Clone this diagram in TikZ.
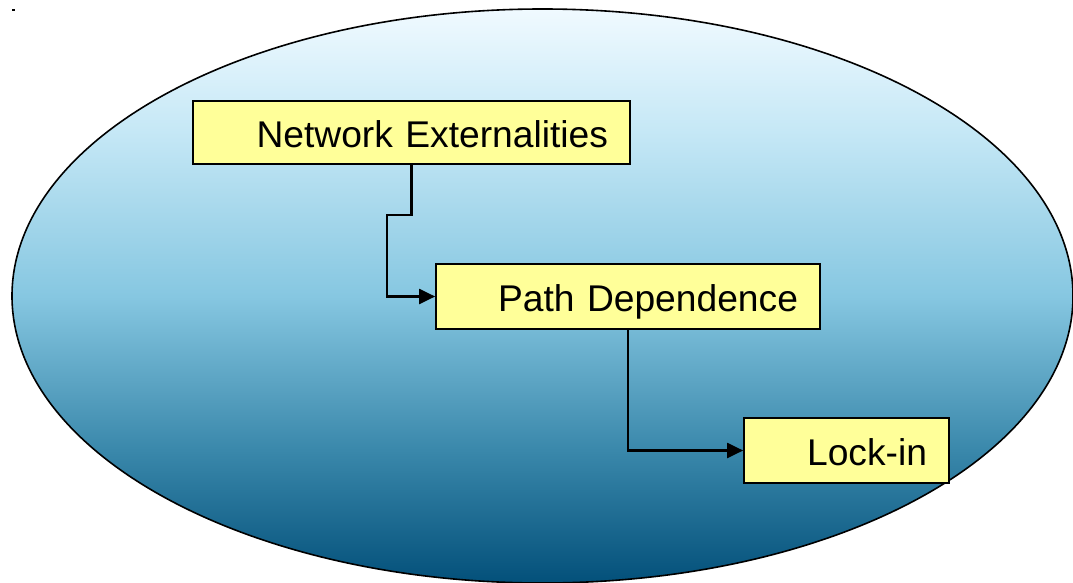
\documentclass[tikz,border=0pt]{standalone}
\usepackage{fontspec}
\setmainfont{Liberation Sans}
\usetikzlibrary{arrows.meta,shadows}

\definecolor{foam}{HTML}{F0FAFF}
\definecolor{lightsea}{HTML}{C6E8F6}
\definecolor{shallow}{HTML}{86C7E1}
\definecolor{midsea}{HTML}{3A88AB}
\definecolor{deepsea}{HTML}{03507A}
\definecolor{boxyellow}{HTML}{FFFF99}

% vertical fade used for the large ellipse (25bp = bottom, 75bp = top)
\pgfdeclareverticalshading{oceanfade}{100bp}{
  color(0bp)=(deepsea); color(25bp)=(deepsea); color(36.6bp)=(midsea);
  color(50bp)=(shallow); color(64.5bp)=(lightsea); color(75bp)=(foam);
  color(100bp)=(foam)}

\tikzset{
  block/.style={draw, line width=1.7pt, fill=boxyellow,
    inner xsep=22pt, inner ysep=0pt, align=right,
    font=\fontsize{37.2}{40}\selectfont,
    text height=30pt, text depth=0pt,
    drop shadow={shadow xshift=1.2pt, shadow yshift=-1.2pt, fill=black, opacity=0.6}},
  link/.style={line width=2.1pt, -{Triangle[length=16pt,width=15pt]}}
}

\begin{document}
\begin{tikzpicture}[x=1pt,y=-1pt]
\useasboundingbox (0,0) rectangle (1073,583);

% background ellipse
\draw[line width=1.6pt, shading=oceanfade]
  (542.5,296) ellipse [x radius=530.5, y radius=287];

% small mark in the corner
\fill (12,9) rectangle (15,11);

% the three stages
\node[block, minimum width=437pt, minimum height=63pt, text width=393pt]
  (ne) at (411.5,132.5) {Network Externalities};
\node[block, minimum width=384pt, minimum height=65pt, text width=340pt]
  (pd) at (628,296.5) {Path Dependence};
\node[block, minimum width=205pt, minimum height=65pt, text width=161pt]
  (li) at (846.5,450.5) {Lock-in};

% connectors
\coordinate (bend) at (387,215);
\draw[link] (ne.south) |- (bend) |- (pd.west);
\draw[link] (pd.south) |- (li.west);
\end{tikzpicture}
\end{document}
